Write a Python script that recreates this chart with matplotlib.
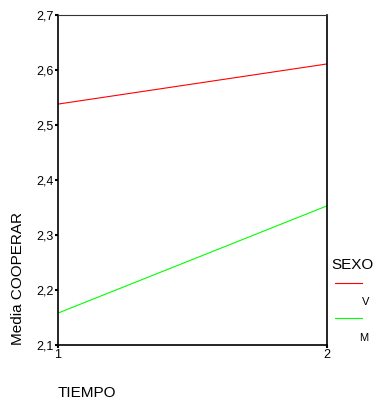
import matplotlib
matplotlib.use('Agg')
import matplotlib.pyplot as plt
from matplotlib.lines import Line2D

plt.rcParams['font.family'] = ['Liberation Sans', 'DejaVu Sans']

tiempo = [1, 2]
media_v = [2.538, 2.611]
media_m = [2.158, 2.353]
yticks = [2.1, 2.2, 2.3, 2.4, 2.5, 2.6, 2.7]
ytick_labels = ['2,1', '2,2', '2,3', '2,4', '2,5', '2,6', '2,7']

fig = plt.figure(figsize=(3.76, 4.05), dpi=100)
ax = fig.add_axes([58/376, 60/405, 269/376, 330/405])

ax.plot(tiempo, media_v, color='#ff0000', lw=0.8)
ax.plot(tiempo, media_m, color='#00ff00', lw=0.8)

ax.set_xlim(1, 2)
ax.set_ylim(2.1, 2.7)
ax.set_xticks([1, 2])
ax.set_xticklabels(['1', '2'], fontsize=9)
ax.set_yticks(yticks)
ax.set_yticklabels(ytick_labels, fontsize=9)
ax.tick_params(axis='both', length=2, width=1.5, pad=1, color='black')

for s in ['left', 'bottom', 'right']:
    ax.spines[s].set_linewidth(1.2)
    ax.spines[s].set_color('black')
ax.spines['top'].set_linewidth(0.8)
ax.spines['top'].set_color('#333333')

fig.text(18/376, 60/405, 'Media COOPERAR', rotation=90, fontsize=11,
         ha='center', va='bottom')
fig.text(58/376, 1 - 393/405, 'TIEMPO', fontsize=11, ha='left', va='center')

# legend
fig.text(331/376, 1 - 265/405, 'SEXO', fontsize=11, ha='left', va='center')
fig.add_artist(Line2D([335/376, 362/376], [1 - 283/405, 1 - 283/405],
                      color='#ff0000', lw=0.8))
fig.text(362/376, 1 - 302/405, 'V', fontsize=8, ha='left', va='center')
fig.add_artist(Line2D([335/376, 362/376], [1 - 318/405, 1 - 318/405],
                      color='#00ff00', lw=0.8))
fig.text(359/376, 1 - 338/405, 'M', fontsize=8, ha='left', va='center')

plt.savefig('out.png', dpi=100)
